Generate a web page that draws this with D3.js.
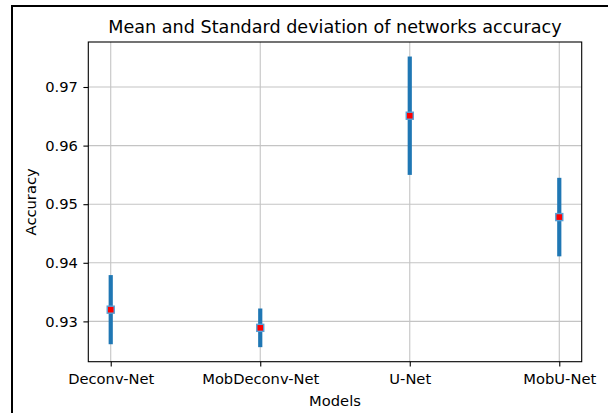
<!DOCTYPE html>
<html><head><meta charset="utf-8">
<script src="https://cdn.jsdelivr.net/npm/d3@7"></script>
<style>body{margin:0;background:#fff}svg{display:block}</style>
</head><body><svg id="c" width="608" height="413"></svg>
<script>
const models = ["Deconv-Net", "MobDeconv-Net", "U-Net", "MobU-Net"];
const means = [0.9320, 0.9289, 0.9651, 0.9478];
const stds = [0.0059, 0.0033, 0.0101, 0.0067];
const yTicks = [0.93, 0.94, 0.95, 0.96, 0.97];

const svg = d3.select("#c");
const font = "DejaVu Sans";
const fs = 14.7;
const L = 88.3, R = 581.7, T = 42, B = 361.7;

// frame border (top and left)
svg.append("line").attr("x1",12).attr("x2",608).attr("y1",6).attr("y2",6).attr("stroke","#000").attr("stroke-width",2);
svg.append("line").attr("x1",12).attr("x2",12).attr("y1",5).attr("y2",413).attr("stroke","#000").attr("stroke-width",2);

const x = d3.scaleLinear().domain([-0.15, 3.15]).range([L, R]);
const lo = d3.min(means.map((m,i)=>m-stds[i])), hi = d3.max(means.map((m,i)=>m+stds[i]));
const pad = (hi-lo)*0.05;
const y = d3.scaleLinear().domain([lo-pad, hi+pad]).range([B, T]);

const g = svg.append("g");
// grid
g.selectAll(".gy").data(yTicks).join("line")
  .attr("x1",L).attr("x2",R).attr("y1",d=>y(d)).attr("y2",d=>y(d))
  .attr("stroke","#c4c4c4").attr("stroke-width",1.1);
g.selectAll(".gx").data(models).join("line")
  .attr("x1",(d,i)=>x(i)).attr("x2",(d,i)=>x(i)).attr("y1",T).attr("y2",B)
  .attr("stroke","#c4c4c4").attr("stroke-width",1.1);

// axes
const yAxis = d3.axisLeft(y).tickValues(yTicks).tickFormat(d3.format(".2f")).tickSize(4.9).tickPadding(5.5);
const ya = svg.append("g").attr("transform",`translate(${L},0)`).call(yAxis);
const xAxis = d3.axisBottom(x).tickValues([0,1,2,3]).tickFormat(i=>models[i]).tickSize(4.9);
const xa = svg.append("g").attr("transform",`translate(0,${B})`).call(xAxis);
[ya, xa].forEach(a=>{
  a.select(".domain").remove();
  a.selectAll(".tick line").attr("stroke","#000").attr("stroke-width",1.1);
  a.selectAll("text").attr("font-family",font).attr("font-size",fs).attr("fill","#000");
});
xa.selectAll("text").attr("y",22.3).attr("dy",0);

// error bars
g.selectAll(".eb").data(means).join("line")
  .attr("x1",(d,i)=>x(i)).attr("x2",(d,i)=>x(i))
  .attr("y1",(d,i)=>y(d-stds[i])).attr("y2",(d,i)=>y(d+stds[i]))
  .attr("stroke","#1f77b4").attr("stroke-width",4.2);
// markers
const ms = 7;
g.selectAll(".mk").data(means).join("rect")
  .attr("x",(d,i)=>x(i)-ms/2).attr("y",d=>y(d)-ms/2).attr("width",ms).attr("height",ms)
  .attr("fill","#ff0000").attr("stroke","#5a9fd4").attr("stroke-width",1.4);

// spines
svg.append("rect").attr("x",L).attr("y",T).attr("width",R-L).attr("height",B-T)
  .attr("fill","none").attr("stroke","#000").attr("stroke-width",1.1);

// labels
svg.append("text").attr("x",(L+R)/2).attr("y",33.3).attr("text-anchor","middle")
  .attr("font-family",font).attr("font-size",17.6).text("Mean and Standard deviation of networks accuracy");
svg.append("text").attr("x",(L+R)/2).attr("y",405.5).attr("text-anchor","middle")
  .attr("font-family",font).attr("font-size",fs).text("Models");
svg.append("text").attr("transform",`translate(35.5,${(T+B)/2}) rotate(-90)`).attr("text-anchor","middle")
  .attr("font-family",font).attr("font-size",fs).text("Accuracy");
</script></body></html>
